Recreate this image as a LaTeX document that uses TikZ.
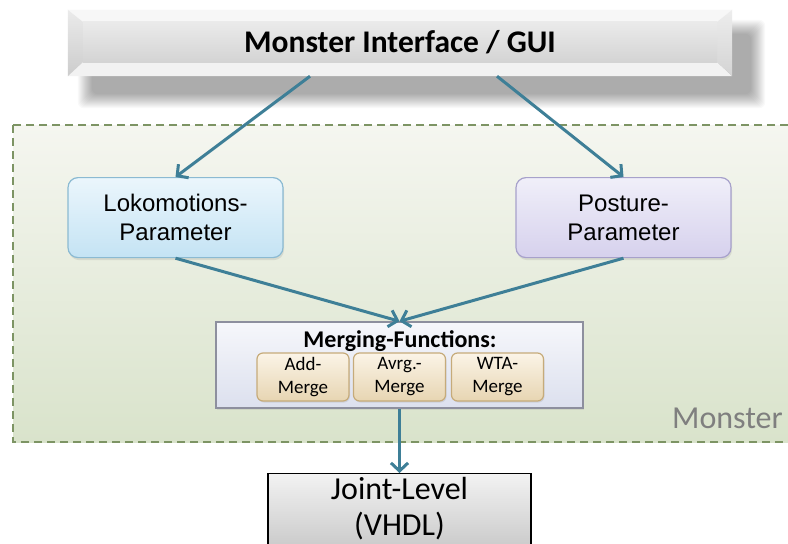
\documentclass[tikz,border=0pt]{standalone}
\usepackage{fontspec}
\setmainfont{Carlito}
\newfontfamily\arialfont{Liberation Sans}
\usetikzlibrary{arrows.meta,calc,shadows}

\definecolor{flowcol}{HTML}{3E7F97}
\definecolor{regionedge}{HTML}{7D9464}
\definecolor{regiontop}{HTML}{F5F6F0}
\definecolor{regionbot}{HTML}{D9E3CB}
\definecolor{lokoedge}{HTML}{8BBAD2}
\definecolor{lokotop}{HTML}{EBF6FC}
\definecolor{lokobot}{HTML}{C4E3F4}
\definecolor{posedge}{HTML}{A7A1CB}
\definecolor{postop}{HTML}{F0EFF9}
\definecolor{posbot}{HTML}{D6D1ED}
\definecolor{mergeedge}{HTML}{8D8F9E}
\definecolor{mergetop}{HTML}{F6F7FB}
\definecolor{mergebot}{HTML}{DCE0EE}
\definecolor{subedge}{HTML}{C6AB7A}
\definecolor{subtop}{HTML}{FBF4E7}
\definecolor{subbot}{HTML}{E7D5B2}
\definecolor{labelgray}{HTML}{7F7F7F}

\begin{document}
\begin{tikzpicture}[x=1pt,y=-1pt,
  flow/.style={draw=flowcol, line width=3pt, -{Straight Barb[length=8pt,width=17pt]}},
  guitext/.style={font=\fontsize{31.5}{37}\selectfont\bfseries, inner sep=0pt},
  regionbox/.style={draw=regionedge, line width=1.4pt, dash pattern=on 8pt off 5pt,
    top color=regiontop, bottom color=regionbot},
  monsterlabel/.style={font=\fontsize{32}{38}\selectfont, text=labelgray, inner sep=0pt},
  paramnode/.style={minimum width=215pt, minimum height=80pt, rounded corners=10pt,
    inner sep=0pt, align=center, line width=1.2pt,
    font=\arialfont\fontsize{24}{29}\selectfont,
    drop shadow={shadow xshift=1pt, shadow yshift=-2.5pt, opacity=0.18}},
  lokostyle/.style={draw=lokoedge, top color=lokotop, bottom color=lokobot},
  posstyle/.style={draw=posedge, top color=postop, bottom color=posbot},
  mergebox/.style={minimum width=367pt, minimum height=86pt, inner sep=0pt,
    draw=mergeedge, line width=1.5pt, top color=mergetop, bottom color=mergebot,
    drop shadow={shadow xshift=1pt, shadow yshift=-2pt, opacity=0.15}},
  mergetitle/.style={font=\fontsize{24}{28}\selectfont\bfseries, inner sep=0pt},
  subbox/.style={minimum width=92pt, minimum height=48pt, rounded corners=6pt,
    inner sep=0pt, align=center, draw=subedge, line width=1.2pt,
    top color=subtop, bottom color=subbot,
    font=\fontsize{19}{23}\selectfont,
    drop shadow={shadow xshift=1pt, shadow yshift=-1.5pt, opacity=0.18}},
  jointbox/.style={minimum width=263pt, inner xsep=0pt, inner ysep=4pt,
    align=center, draw=black, line width=1.2pt,
    top color=white!95!black, bottom color=white!80!black,
    font=\fontsize{32}{36}\selectfont}
]
\useasboundingbox (0,0) rectangle (788,544);
\clip (0,0) rectangle (788,544);
\fill[white] (0,0) rectangle (788,544);

% ---- dashed "Monster" area ----
\draw[regionbox] (13,125) rectangle (805,442);
\node[monsterlabel, anchor=base east] (monster) at (783,428) {Monster};

% ---- bevelled interface bar ----
\node[minimum width=664pt, minimum height=66pt, inner sep=0pt] (gui) at (400,43) {};
% soft shadow beneath the bar
\foreach \i in {0,1,...,14} {
  \fill[black, opacity=0.022, rounded corners=6pt]
    ($(gui.north west)+(10+\i,10+\i)$) rectangle ($(gui.south east)+(33-\i,32-\i)$);
}
\coordinate (ia) at ($(gui.north west)+(15,12)$);
\coordinate (ib) at ($(gui.north east)+(-15,12)$);
\coordinate (ic) at ($(gui.south east)+(-15,-14)$);
\coordinate (id) at ($(gui.south west)+(15,-14)$);
\fill[white!97!black] (gui.north west) -- (gui.north east) -- (ib) -- (ia) -- cycle;
\fill[white!95!black] (id) -- (ic) -- (gui.south east) -- (gui.south west) -- cycle;
\shade[top color=white!92!black, bottom color=white!80!black]
  (gui.north west) -- (ia) -- (id) -- (gui.south west) -- cycle;
\shade[top color=white!93!black, bottom color=white!83!black]
  (gui.north east) -- (ib) -- (ic) -- (gui.south east) -- cycle;
\shade[top color=white!92!black, bottom color=white!83!black] (ia) rectangle (ic);
\node[guitext, anchor=base] (guilabel) at (400,52) {Monster Interface / GUI};

% ---- parameter boxes ----
\node[paramnode, lokostyle, anchor=north] (loko) at (175.5,177) {Lokomotions-\\Parameter};
\node[paramnode, posstyle, anchor=north] (post) at (623.5,177) {Posture-\\Parameter};

% ---- merging functions ----
\node[mergebox] (merge) at (399.5,365) {};
\node[mergetitle, anchor=base] (mtitle) at (400,347) {Merging-Functions:};
\node[subbox] (addm) at (303,377) {Add-\\Merge};
\node[subbox] (avgm) at (399.5,377) {Avrg.-\\Merge};
\node[subbox] (wtam) at (497.5,377) {WTA-\\Merge};

% ---- joint level ----
\node[jointbox, anchor=north] (joint) at (399.5,473) {Joint-Level\\(VHDL)};

% ---- connectors ----
\coordinate (gl) at ($(gui.south)+(-90,0)$);
\coordinate (gr) at ($(gui.south)+(97,0)$);
\draw[flow] (gl) -- (loko.north);
\draw[flow] (gr) -- (post.north);
\draw[flow] (loko.south) -- (merge.north);
\draw[flow] (post.south) -- (merge.north);
\draw[flow] (merge.south) -- (joint.north);
\end{tikzpicture}
\end{document}
